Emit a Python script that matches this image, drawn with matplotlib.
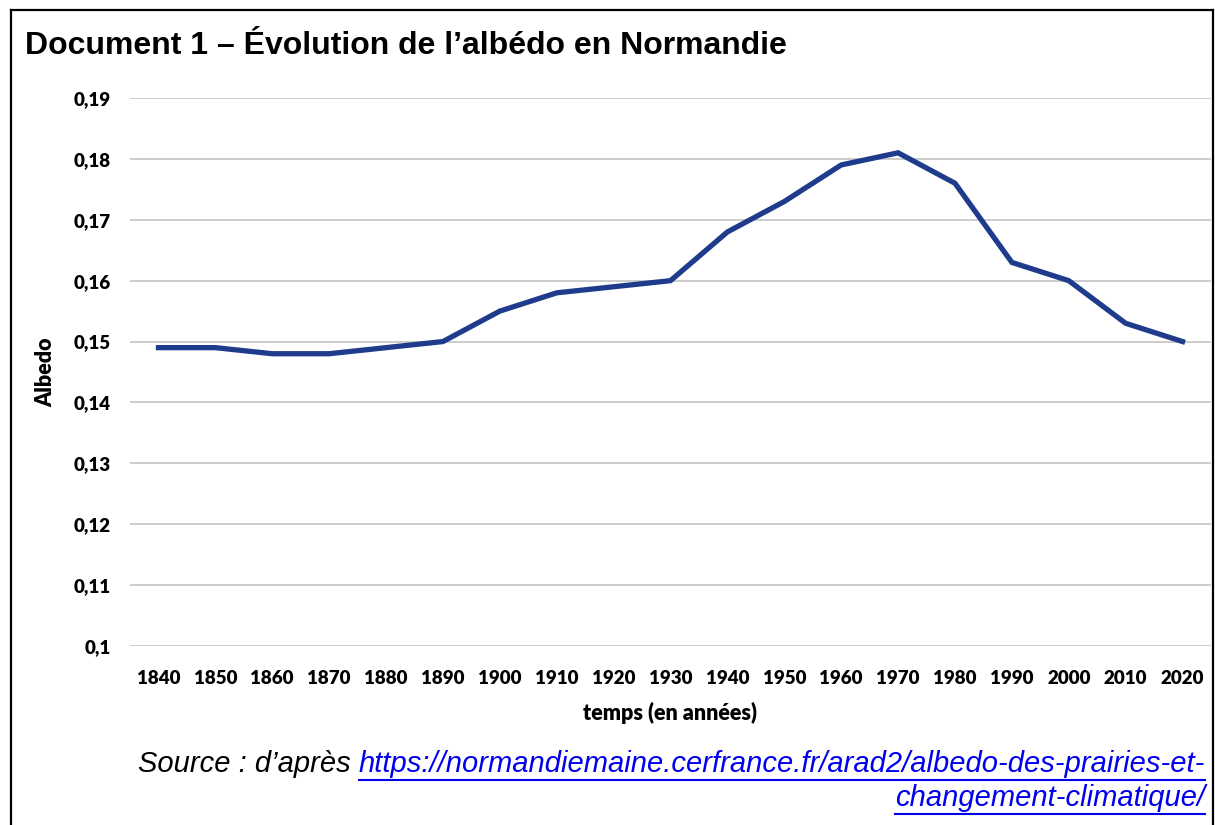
import matplotlib
matplotlib.use("Agg")
import matplotlib.pyplot as plt
from matplotlib.lines import Line2D
from matplotlib.ticker import FixedLocator, FuncFormatter

years = ['1840', '1850', '1860', '1870', '1880', '1890', '1900', '1910', '1920', '1930',
         '1940', '1950', '1960', '1970', '1980', '1990', '2000', '2010', '2020']
albedo = [0.149, 0.149, 0.148, 0.148, 0.149, 0.150, 0.155, 0.158, 0.159, 0.160,
          0.168, 0.173, 0.179, 0.181, 0.176, 0.163, 0.160, 0.153, 0.150]
y_ticks = [0.10, 0.11, 0.12, 0.13, 0.14, 0.15, 0.16, 0.17, 0.18, 0.19]

title = "Document 1 – Évolution de l’albédo en Normandie"
source_prefix = "Source : d’après "
url_line1 = "https://normandiemaine.cerfrance.fr/arad2/albedo-des-prairies-et-"
url_line2 = "changement-climatique/"

W, H = 1215, 825
fig = plt.figure(figsize=(W / 100, H / 100), dpi=100)


def fx(px):
    return px / W


def fy(py):
    return 1 - py / H


# outer frame (left, top, right; bottom is cut off)
fig.add_artist(Line2D([fx(11), fx(11)], [0, fy(10)], color='black', lw=1.6))
fig.add_artist(Line2D([fx(11), fx(1213)], [fy(10), fy(10)], color='black', lw=1.6))
fig.add_artist(Line2D([fx(1213), fx(1213)], [0, fy(10)], color='black', lw=1.6))

fig.text(fx(25), fy(46), title, fontsize=23, fontweight='bold',
         family='Liberation Sans', va='center', ha='left')

ax = fig.add_axes([fx(130), fy(646), fx(1211) - fx(130), fy(98) - fy(646)])
x = list(range(len(years)))
ax.plot(x, albedo, color='#1f3c8c', lw=3.8, solid_joinstyle='miter', zorder=3)
ax.set_xlim(-0.5, len(years) - 0.5)
ax.set_ylim(0.10, 0.19)
ax.set_xticks(x)
ax.set_xticklabels(years)
ax.yaxis.set_major_locator(FixedLocator(y_ticks))
ax.yaxis.set_major_formatter(FuncFormatter(
    lambda v, p: ('%.2f' % v).rstrip('0').replace('.', ',')))
ax.grid(axis='y', color='#c8c8c8', lw=1.3)
for s in ax.spines.values():
    s.set_visible(False)
ax.tick_params(length=0)
ax.tick_params(axis='y', pad=14)
ax.tick_params(axis='x', pad=17)
for lab in ax.get_xticklabels() + ax.get_yticklabels():
    lab.set_fontfamily('Lato')
    lab.set_fontweight('heavy')
    lab.set_fontsize(13.5)
ax.set_xlabel('temps (en années)', fontfamily='Lato', fontweight='heavy', fontsize=15.5)
ax.set_ylabel('Albedo', fontfamily='Lato', fontweight='heavy', fontsize=15.5)
ax.xaxis.set_label_coords(fx(670), fy(702), transform=fig.transFigure)
ax.yaxis.set_label_coords(fx(56), fy(372), transform=fig.transFigure)

# source lines, right aligned, link in blue with underline
fig.canvas.draw()
renderer = fig.canvas.get_renderer()
link_color = '#0000ee'
src_font = dict(fontsize=21, style='italic', family='Liberation Sans', va='baseline')


def underline(t):
    bb = t.get_window_extent(renderer)
    yl = bb.y0 + 1
    fig.add_artist(Line2D([bb.x0 / W, bb.x1 / W], [yl / H - 0.004, yl / H - 0.004],
                          color=link_color, lw=1.5))
    return bb


t1 = fig.text(fx(1205), fy(772), url_line1, color=link_color, ha='right', **src_font)
bb1 = underline(t1)
fig.text(bb1.x0 / W, fy(772), source_prefix, color='black', ha='right', **src_font)
t2 = fig.text(fx(1205), fy(806), url_line2, color=link_color, ha='right', **src_font)
underline(t2)

fig.savefig('out.png', dpi=100)
